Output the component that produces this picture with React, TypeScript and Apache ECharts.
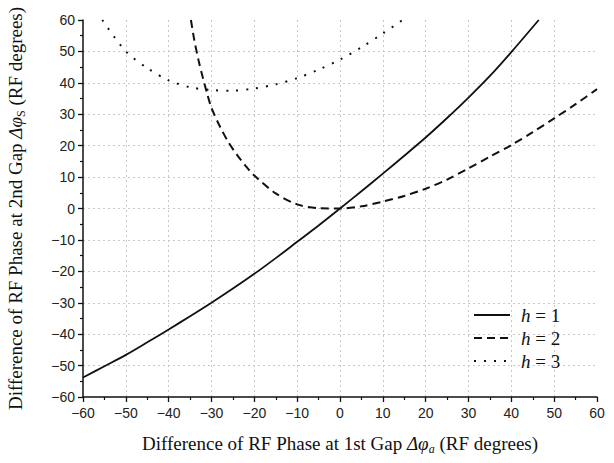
import React, { useEffect, useRef } from "react";
import * as echarts from "echarts";

// h = 1 (solid)
const h1X = [-60, -55, -50, -45, -40, -35, -30, -25, -20, -15, -10, -5, 0, 5, 10, 15, 20, 25, 30, 35, 40, 46.4];
const h1Y = [-53.8, -50.2, -46.6, -42.6, -38.5, -34.3, -30, -25.5, -20.8, -15.8, -10.6, -5.4, 0, 5.5, 11.1, 16.8, 22.6, 28.8, 35.3, 42.2, 49.8, 60];

// h = 2 (dashed)
const h2X = [-34.8, -34, -33, -32, -31, -30, -28, -26, -24, -22, -20, -15, -10, -5, 0, 5, 10, 15, 20, 25, 30, 35, 40, 45, 50, 55, 60];
const h2Y = [60, 53.5, 47, 41.5, 36.5, 32, 26, 21, 17, 13.5, 10.5, 4.8, 1.3, 0.1, 0, 0.7, 2.2, 4, 6.3, 9.2, 12.8, 16.5, 20.2, 24.3, 28.7, 33.2, 38];

// h = 3 (dotted)
const h3X = [-55.5, -50, -45, -40, -35, -30, -25, -20, -15, -10, -5, 0, 5, 10, 14.6];
const h3Y = [60, 50, 44.7, 40.8, 38.6, 37.7, 37.5, 38.2, 39.5, 41.5, 44.2, 47.4, 51.3, 55.7, 60];

const seriesNames = ["h = 1", "h = 2", "h = 3"];
const axisMin = -60;
const axisMax = 60;
const axisStep = 10;

const pairs = (xs: number[], ys: number[]) => xs.map((x, i) => [x, ys[i]]);

const SANS = "'Liberation Sans', Arial, sans-serif";
const SERIF = "'Liberation Serif', 'Times New Roman', serif";

const fmt = (v: number) => String(v).replace("-", "\u2212");

export default function App() {
  const ref = useRef<HTMLDivElement>(null);
  useEffect(() => {
    document.body.style.margin = "0";
    const chart = echarts.init(ref.current!, null, { renderer: "svg" });
    const nameRich = {
      i: { fontStyle: "italic", fontFamily: SERIF, fontSize: 19, lineHeight: 24, color: "#111" },
      sub: { fontStyle: "italic", fontFamily: SERIF, fontSize: 12, lineHeight: 24, verticalAlign: "bottom", color: "#111" },
      subu: { fontFamily: SERIF, fontSize: 12, lineHeight: 24, verticalAlign: "bottom", color: "#111" },
    };
    const axisCommon = {
      type: "value",
      min: axisMin,
      max: axisMax,
      interval: axisStep,
      axisLine: { show: true, onZero: false, lineStyle: { color: "#111", width: 1.5 } },
      axisTick: { show: true, inside: false, length: 5, lineStyle: { color: "#111", width: 1.3 } },
      minorTick: { show: true, splitNumber: 2, length: 3, lineStyle: { color: "#111", width: 1.2 } },
      splitLine: { show: true, showMaxLine: false, showMinLine: false, lineStyle: { color: "#c8c8c8", type: [2, 3], width: 1 } },
      axisLabel: { fontFamily: SANS, fontSize: 14, color: "#222", formatter: fmt },
      nameLocation: "middle",
      nameTextStyle: {
        fontFamily: SERIF,
        fontSize: 19,
        lineHeight: 24,
        color: "#111",
        width: 480,
        overflow: "none",
        rich: nameRich,
      },
    };
    chart.setOption({
      animation: false,
      backgroundColor: "#fff",
      grid: { left: 83, right: 17, top: 20, bottom: 66, containLabel: false, outerBoundsMode: "none" },
      xAxis: {
        ...axisCommon,
        name: "Difference of RF Phase at 1st Gap {i|Δφ}{sub|a} (RF degrees)",
        nameGap: 34,
        axisLabel: { ...axisCommon.axisLabel, margin: 9 },
      },
      yAxis: {
        ...axisCommon,
        name: "Difference of RF Phase at 2nd Gap {i|Δφ}{subu|S} (RF degrees)",
        nameGap: 56,
        axisLabel: { ...axisCommon.axisLabel, margin: 8 },
      },
      legend: {
        orient: "vertical",
        left: 468,
        top: 299,
        itemWidth: 36,
        itemHeight: 10,
        itemGap: 1,
        data: seriesNames,
        itemStyle: { opacity: 0 },
        formatter: (name: string) => "{i|h}" + name.slice(1),
        textStyle: {
          fontFamily: SERIF,
          fontSize: 19,
          lineHeight: 22,
          color: "#111",
          padding: [0, 0, 0, 6],
          rich: { i: { fontFamily: SERIF, fontStyle: "italic", fontSize: 19, lineHeight: 22, color: "#111" } },
        },
      },
      series: [
        {
          name: seriesNames[0],
          type: "line",
          data: pairs(h1X, h1Y),
          smooth: 0.3,
          showSymbol: false,
          symbol: "none",
          lineStyle: { color: "#111", width: 1.8, type: "solid" },
          itemStyle: { color: "#111" },
        },
        {
          name: seriesNames[1],
          type: "line",
          data: pairs(h2X, h2Y),
          smooth: 0.3,
          showSymbol: false,
          symbol: "none",
          lineStyle: { color: "#111", width: 2, type: [8, 5] },
          itemStyle: { color: "#111" },
        },
        {
          name: seriesNames[2],
          type: "line",
          data: pairs(h3X, h3Y),
          smooth: 0.3,
          showSymbol: false,
          symbol: "none",
          lineStyle: { color: "#111", width: 2, type: [2, 8] },
          itemStyle: { color: "#111" },
        },
      ],
    });
    return () => chart.dispose();
  }, []);
  return <div ref={ref} style={{ position: "absolute", left: 0, top: 0, width: 614, height: 463 }} />;
}
